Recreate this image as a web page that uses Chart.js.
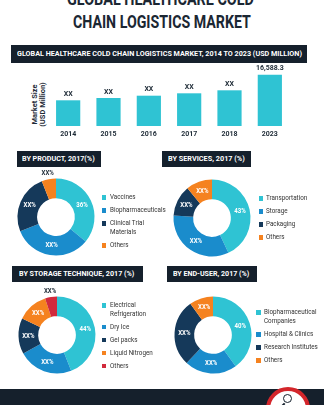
<!DOCTYPE html>
<html>
<head>
<meta charset="utf-8">
<script src="https://cdn.jsdelivr.net/npm/chart.js@4.4.0/dist/chart.umd.min.js"></script>
<style>
  body { margin: 0; }
  #page { position: relative; width: 324px; height: 405px; overflow: hidden; background: #fff; font-family: Roboto, sans-serif; }
  .title { position: absolute; font-weight: 700; font-size: 18.5px; line-height: 18px; white-space: nowrap; color: #1b2733; transform-origin: 0 0; }
  .banner { position: absolute; background: #15202c; }
  .banner span { position: absolute; top: 50%; margin-top: -5px; line-height: 10px; font-size: 7.5px; font-weight: 700; color: #fff; white-space: nowrap; transform-origin: 0 50%; }
  .lg { position: absolute; font-size: 7px; line-height: 8.6px; color: #333; white-space: nowrap; transform: scaleX(0.9); transform-origin: 0 0; }
  .sq { position: absolute; width: 4.5px; height: 4.5px; }
  canvas { position: absolute; }
  #ytitle { position: absolute; left: 8.25px; top: 97px; width: 60px; text-align: center; font-size: 7.5px; line-height: 7.5px; font-weight: 700; color: #1d2a36; transform: rotate(-90deg); }
  #footer { position: absolute; left: 0; top: 389px; width: 324px; height: 16px; background: #15202c; }
  #logo { position: absolute; left: 266px; top: 387px; width: 36px; height: 36px; border: 4px solid #d4262b; border-radius: 50%; background: #fff; }
  #logo i { position: absolute; display: block; }
</style>
</head>
<body>
<div id="page">
  <div class="title fit" data-x="66.7" data-w="186.7" style="top:-10.3px">GLOBAL HEALTHCARE COLD</div>
  <div class="title fit" data-x="73" data-w="178" style="top:13px">CHAIN LOGISTICS MARKET</div>

  <div class="banner" style="left:11px;top:45px;width:296px;height:17.7px"><span data-w="285" style="font-size:7px">GLOBAL HEALTHCARE COLD CHAIN LOGISTICS MARKET, 2014 TO 2023 (USD MILLION)</span></div>
  <div id="ytitle">Market Size<br>(USD Million)</div>
  <canvas id="bar" width="324" height="84" style="left:0;top:62px"></canvas>

  <div class="banner" style="left:16.7px;top:151px;width:84.3px;height:16px"><span data-w="72.7">BY PRODUCT, 2017(%)</span></div>
  <div class="banner" style="left:162.3px;top:151px;width:88.4px;height:16px"><span data-w="76.7">BY SERVICES, 2017 (%)</span></div>
  <div class="banner" style="left:11.7px;top:265.5px;width:131px;height:16.5px"><span data-w="115.7">BY STORAGE TECHNIQUE, 2017 (%)</span></div>
  <div class="banner" style="left:166.7px;top:265.5px;width:90px;height:16.5px"><span data-w="76.7">BY END-USER, 2017 (%)</span></div>

  <canvas id="product" width="110" height="110"></canvas>
  <canvas id="services" width="110" height="110"></canvas>
  <canvas id="storage" width="110" height="110"></canvas>
  <canvas id="enduser" width="110" height="110"></canvas>

  <div id="footer"></div>
  <div id="logo">
    <i style="left:13px;top:3px;width:7px;height:7px;border:1.5px solid #15202c;border-radius:50%"></i>
    <i style="left:6px;top:15px;width:10px;height:1.6px;background:#15202c;transform:rotate(-45deg)"></i>
  </div>
</div>

<script>
// market size by year (USD million)
const years = ['2014', '2015', '2016', '2017', '2018', '2023'];
const marketSize = [8310, 9050, 9800, 10570, 11540, 16588.3];
const marketLabels = ['XX', 'XX', 'XX', 'XX', 'XX', '16,588.3'];

// segment shares, 2017 (%)
const productNames = ['Vaccines', 'Biopharmaceuticals', ['Clinical Trial', 'Materials'], 'Others'];
const productShare = [36, 33, 25, 6];
const productLabels = ['36%', 'XX%', 'XX%', 'XX%'];

const serviceNames = ['Transportation', 'Storage', 'Packaging', 'Others'];
const serviceShare = [43, 33, 13, 11];
const serviceLabels = ['43%', 'XX%', 'XX%', 'XX%'];

const storageNames = [['Electrical', 'Refrigeration'], 'Dry Ice', 'Gel packs', 'Liquid Nitrogen', 'Others'];
const storageShare = [44, 23, 15, 13, 5];
const storageLabels = ['44%', 'XX%', 'XX%', 'XX%', 'XX%'];

const endUserNames = [['Biopharmaceutical', 'Companies'], 'Hospital & Clinics', 'Research Institutes', 'Others'];
const endUserShare = [40, 22, 28, 10];
const endUserLabels = ['40%', 'XX%', 'XX%', 'XX%'];

const colors = ['#2fc3d3', '#1a8ccc', '#15395a', '#f5821f', '#d12a3c'];
const ink = '#1d2a36';

const page = document.getElementById('page');

// squeeze headings to their box widths
function fitTexts() {
  document.querySelectorAll('.fit').forEach(el => {
    const w = +el.dataset.w;
    el.style.left = el.dataset.x + 'px';
    el.style.transform = 'scaleX(' + (w / el.offsetWidth) + ')';
  });
  document.querySelectorAll('.banner span').forEach(el => {
    const w = +el.dataset.w;
    el.style.left = ((el.parentNode.offsetWidth - w) / 2) + 'px';
    el.style.transform = 'scaleX(' + (w / el.offsetWidth) + ')';
  });
}

const barLabelPlugin = {
  id: 'barLabels',
  afterDatasetsDraw(chart) {
    const ctx = chart.ctx;
    const labels = chart.options.plugins.barLabels.labels;
    ctx.save();
    ctx.font = 'bold 7px Roboto';
    ctx.fillStyle = ink;
    ctx.textAlign = 'center';
    ctx.textBaseline = 'middle';
    chart.getDatasetMeta(0).data.forEach((bar, i) => {
      ctx.fillText(labels[i], bar.x, bar.y - 6);
    });
    ctx.restore();
  }
};

const sliceLabelPlugin = {
  id: 'sliceLabels',
  afterDatasetsDraw(chart) {
    const ctx = chart.ctx;
    const labels = chart.options.plugins.sliceLabels.labels;
    const values = chart.data.datasets[0].data;
    ctx.save();
    ctx.font = 'bold 7px Roboto';
    ctx.textAlign = 'center';
    ctx.textBaseline = 'middle';
    chart.getDatasetMeta(0).data.forEach((arc, i) => {
      const p = arc.getProps(['x', 'y', 'startAngle', 'endAngle', 'innerRadius', 'outerRadius'], true);
      const mid = (p.startAngle + p.endAngle) / 2;
      const outside = values[i] < 7;
      const r = outside ? p.outerRadius + 6 : (p.innerRadius + p.outerRadius) / 2;
      ctx.fillStyle = outside ? ink : '#fff';
      ctx.save();
      ctx.translate(p.x + Math.cos(mid) * r, p.y + Math.sin(mid) * r);
      ctx.scale(0.87, 1);
      ctx.fillText(labels[i], 0, 0);
      ctx.restore();
    });
    ctx.restore();
  }
};

function makeBar() {
  new Chart(document.getElementById('bar'), {
    type: 'bar',
    data: {
      labels: years,
      datasets: [{
        data: marketSize,
        backgroundColor: colors[0],
        barPercentage: 0.6,
        categoryPercentage: 1
      }]
    },
    options: {
      responsive: false,
      animation: false,
      layout: { padding: { left: 48, right: 34, top: 4, bottom: 3.6 } },
      scales: {
        x: {
          grid: { display: false, drawTicks: false },
          border: { display: false },
          ticks: { padding: 4, color: ink, font: { family: 'Roboto', size: 7, weight: 'bold' } }
        },
        y: { display: false, min: 0, max: 19400 }
      },
      plugins: {
        legend: { display: false },
        tooltip: { enabled: false },
        barLabels: { labels: marketLabels }
      }
    },
    plugins: [barLabelPlugin]
  });
}

function makeDonut(id, cx, cy, names, shares, labels) {
  const cv = document.getElementById(id);
  cv.style.left = (cx - 55) + 'px';
  cv.style.top = (cy - 55) + 'px';
  new Chart(cv, {
    type: 'doughnut',
    data: {
      labels: names.map(n => Array.isArray(n) ? n.join(' ') : n),
      datasets: [{ data: shares, backgroundColor: colors.slice(0, shares.length), borderWidth: 0 }]
    },
    options: {
      responsive: false,
      animation: false,
      radius: 38.5,
      cutout: '49%',
      plugins: {
        legend: { display: false },
        tooltip: { enabled: false },
        sliceLabels: { labels: labels }
      }
    },
    plugins: [sliceLabelPlugin]
  });
}

function makeLegend(names, sqX, textX, firstY) {
  let y = firstY;
  names.forEach((n, i) => {
    const lines = Array.isArray(n) ? n : [n];
    const sq = document.createElement('div');
    sq.className = 'sq';
    sq.style.left = sqX + 'px';
    sq.style.top = (y - 2.25) + 'px';
    sq.style.background = colors[i];
    const t = document.createElement('div');
    t.className = 'lg';
    t.style.left = textX + 'px';
    t.style.top = (y - 4.3) + 'px';
    t.innerHTML = lines.join('<br>').replace('&', '&amp;');
    page.append(sq, t);
    y += 13 + 8.7 * (lines.length - 1);
  });
}

fitTexts();
makeBar();
makeDonut('product', 56, 217, productNames, productShare, productLabels);
makeDonut('services', 212, 217.5, serviceNames, serviceShare, serviceLabels);
makeDonut('storage', 56.5, 335, storageNames, storageShare, storageLabels);
makeDonut('enduser', 212.5, 335, endUserNames, endUserShare, endUserLabels);

makeLegend(productNames, 101.7, 110, 197.7);
makeLegend(serviceNames, 258.7, 266, 198.3);
makeLegend(storageNames, 101.7, 110, 305.3);
makeLegend(endUserNames, 256.3, 263.7, 312.7);
</script>
</body>
</html>
